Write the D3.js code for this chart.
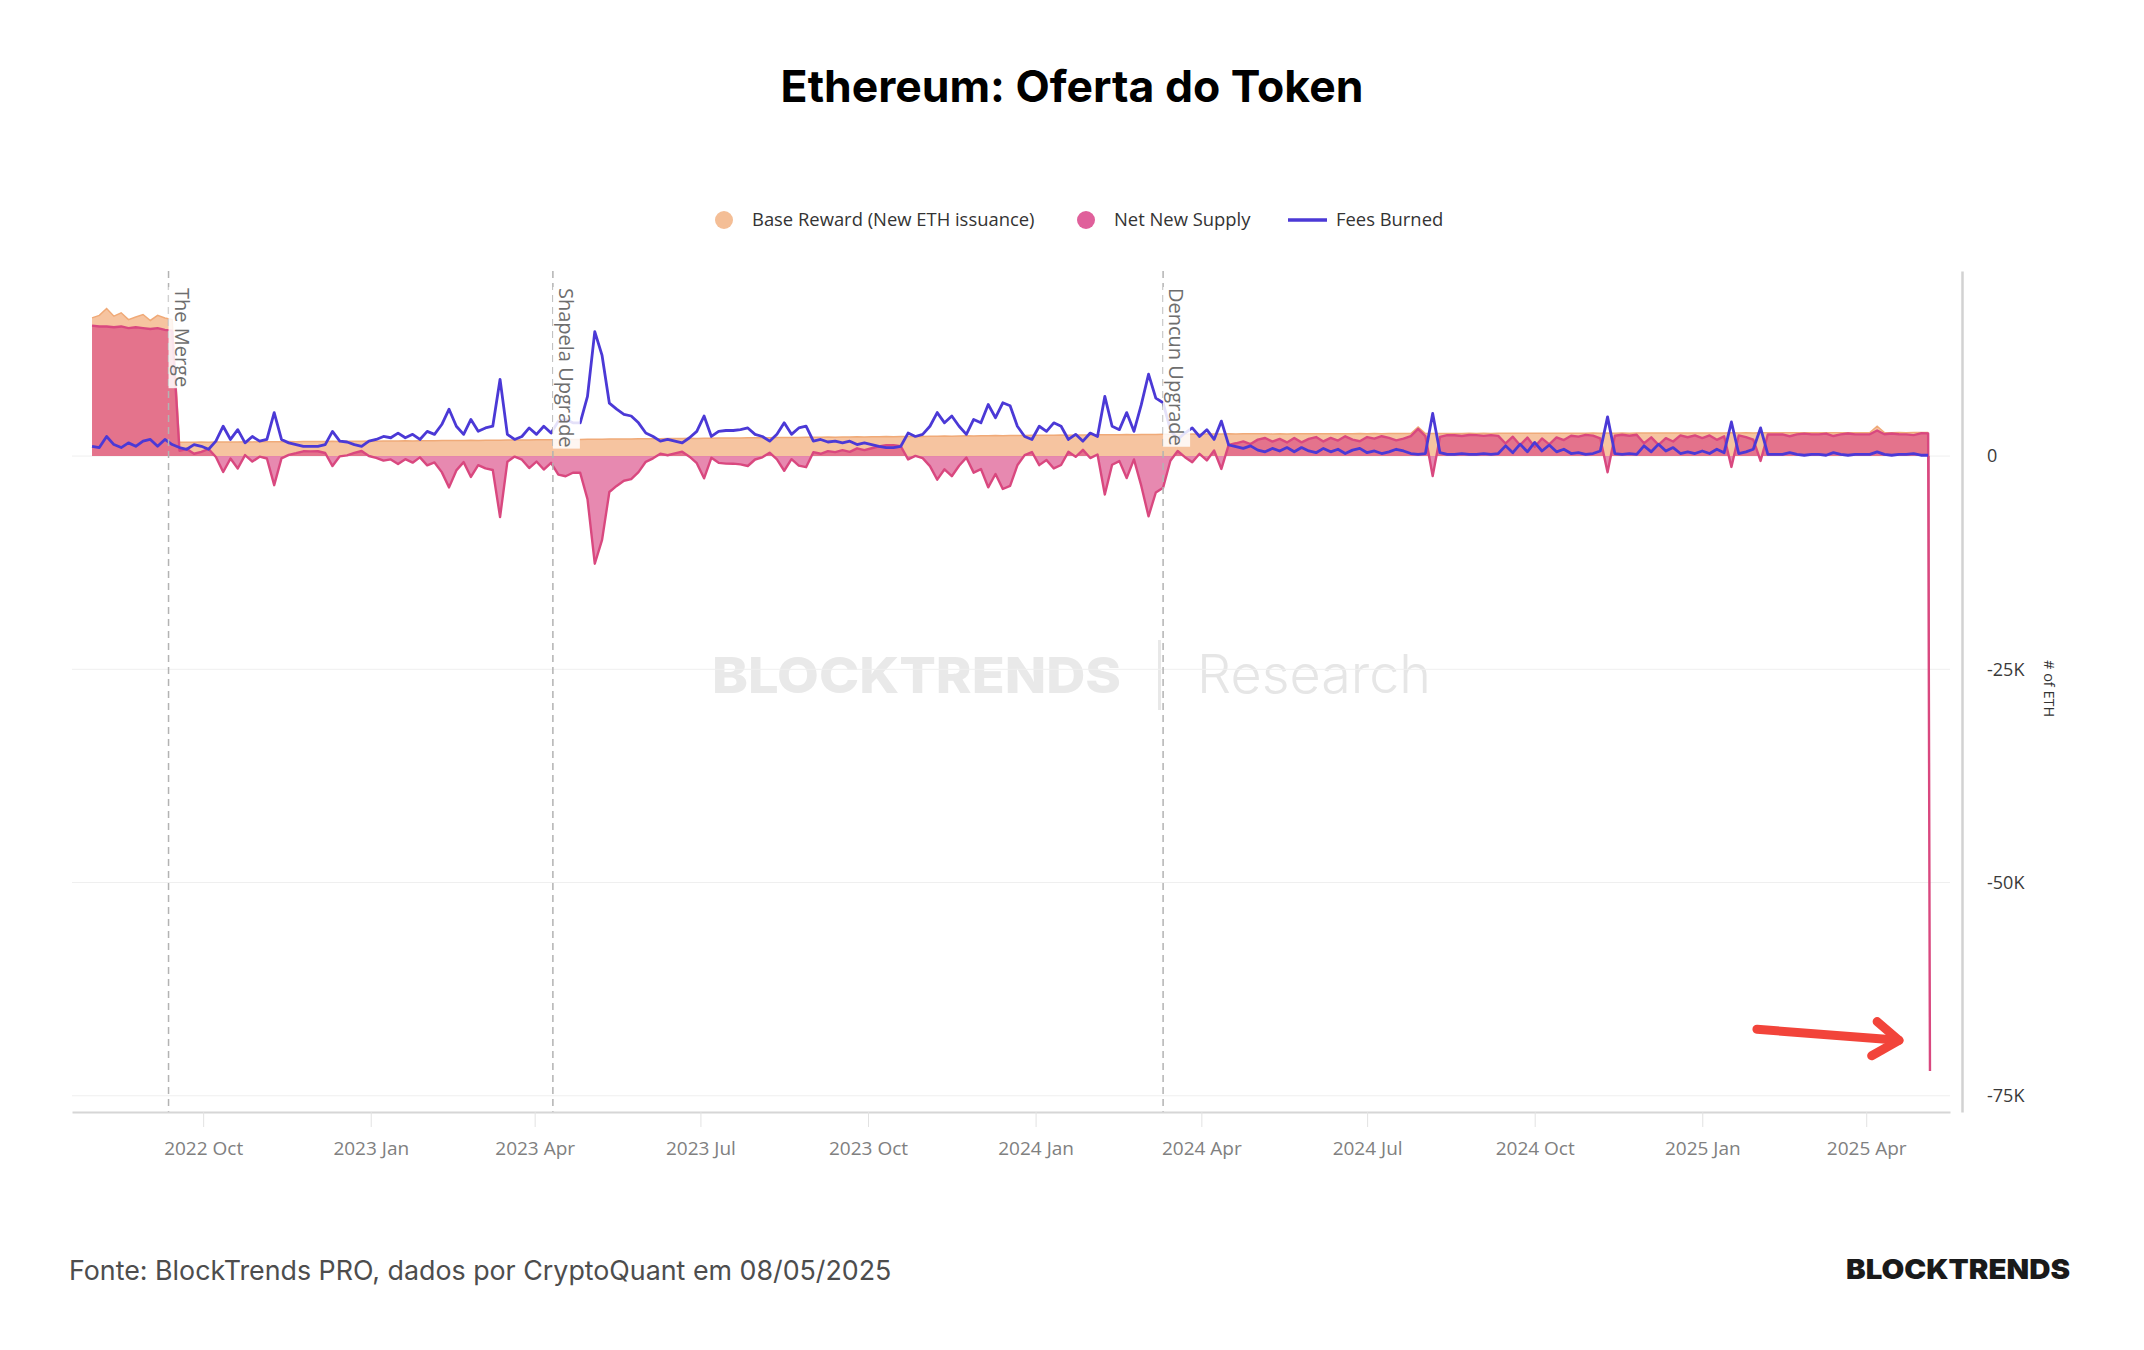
<!DOCTYPE html>
<html>
<head>
<meta charset="utf-8">
<script src="https://cdn.jsdelivr.net/npm/d3@7"></script>
<style>
  html, body { margin: 0; padding: 0; background: #fff; }
  svg { display: block; }
</style>
</head>
<body>
<div id="chart"></div>
<script>
// valores em milhares de ETH por dia, um ponto a cada 4 dias a partir de 01/08/2022
var startDate = "2022-08-01";
var stepDays = 4;

var baseReward = [
  16.2, 16.5, 17.3, 16.4, 16.8, 16.0, 16.3, 16.6, 15.9, 16.5, 16.2, 16.0,
  1.62, 1.63, 1.62, 1.64, 1.63, 1.65, 1.64, 1.66, 1.65, 1.67,
  1.66, 1.68, 1.67, 1.69, 1.68, 1.70, 1.69, 1.71, 1.70, 1.72,
  1.71, 1.73, 1.72, 1.74, 1.73, 1.75, 1.76, 1.75, 1.77, 1.76,
  1.78, 1.79, 1.78, 1.80, 1.81, 1.80, 1.82, 1.83, 1.82, 1.84,
  1.85, 1.84, 1.86, 1.87, 1.86, 1.88, 1.89, 1.88, 1.90, 1.91,
  1.92, 1.91, 1.93, 1.94, 1.95, 1.94, 1.96, 1.98, 1.97, 1.99,
  2.00, 2.01, 2.00, 2.02, 2.03, 2.04, 2.03, 2.05, 2.06, 2.07,
  2.08, 2.07, 2.09, 2.10, 2.11, 2.12, 2.11, 2.13, 2.14, 2.15,
  2.16, 2.15, 2.17, 2.18, 2.19, 2.18, 2.20, 2.21, 2.22, 2.23,
  2.22, 2.24, 2.25, 2.26, 2.25, 2.27, 2.28, 2.29, 2.28, 2.30,
  2.31, 2.32, 2.31, 2.33, 2.34, 2.35, 2.34, 2.36, 2.37, 2.36,
  2.38, 2.39, 2.40, 2.39, 2.41, 2.42, 2.41, 2.43, 2.44, 2.43,
  2.45, 2.46, 2.45, 2.47, 2.48, 2.47, 2.49, 2.50, 2.49, 2.51,
  2.52, 2.51, 2.53, 2.54, 2.53, 2.55, 2.56, 2.55, 2.57, 2.58,
  2.57, 2.59, 2.60, 2.59, 2.61, 2.60, 2.62, 2.61, 2.63, 2.62,
  2.60, 2.61, 2.60, 2.62, 2.61, 2.62, 2.63, 2.62, 2.63, 2.62,
  2.62, 2.63, 2.64, 2.63, 2.64, 2.63, 2.64, 2.65, 2.64, 2.65,
  3.40, 2.65, 2.66, 2.65, 2.66, 2.65, 2.66, 2.67, 2.66, 2.67,
  2.66, 2.67, 2.68, 2.67, 2.68, 2.67, 2.68, 2.67, 2.68, 2.69,
  2.68, 2.69, 2.68, 2.69, 2.70, 2.69, 2.70, 2.69, 2.70, 2.69,
  2.70, 2.71, 2.70, 2.71, 2.70, 2.71, 2.72, 2.71, 2.72, 2.71,
  2.72, 2.71, 2.72, 2.73, 2.72, 2.73, 2.72, 2.73, 2.74, 2.73,
  2.74, 2.73, 2.74, 2.73, 2.74, 2.75, 2.74, 2.75, 2.74, 2.75,
  2.74, 2.75, 2.76, 3.50, 2.76, 2.75, 2.76, 2.75, 2.76, 2.77,
  2.76
];

var netNewSupply = [
  15.3, 15.2, 15.2, 15.1, 15.2, 15.0, 15.1, 15.0, 14.9, 15.0, 14.8, 14.7,
  0.62, 0.83, 0.27, 0.49, 0.83, -0.10, -1.86, -0.29, -1.45, 0.12,
  -0.64, -0.07, -0.28, -3.41, -0.27, 0.15, 0.34, 0.56, 0.55, 0.57,
  0.36, -1.17, -0.03, 0.09, 0.38, 0.60, 0.01, -0.20, -0.53, -0.39,
  -0.92, -0.36, -0.77, -0.15, -1.09, -0.75, -1.88, -3.67, -1.68, -0.71,
  -2.45, -1.06, -1.44, -1.63, -7.14, -0.67, -0.06, -0.42, -1.40, -0.64,
  -1.58, -0.79, -2.17, -2.36, -1.95, -1.96, -5.04, -12.62, -9.83, -4.21,
  -3.50, -2.89, -2.70, -1.88, -0.67, -0.26, 0.28, 0.10, 0.31, 0.52,
  -0.07, -0.83, -2.61, -0.20, -0.79, -0.88, -0.89, -0.97, -1.16, -0.40,
  -0.14, 0.40, -0.38, -1.72, -0.36, -1.12, -1.30, 0.46, 0.27, 0.58,
  0.47, 0.69, 0.50, 0.91, 0.70, 0.92, 1.13, 1.29, 1.28, 1.15,
  -0.39, 0.02, -0.24, -1.17, -2.76, -1.55, -2.36, -1.14, -0.18, -1.94,
  -1.52, -3.66, -2.10, -3.86, -3.49, -1.08, 0.11, 0.48, -1.06, -0.47,
  -1.45, -1.04, 0.50, -0.08, 0.73, -0.23, 0.19, -4.50, -1.01, -0.59,
  -2.58, -0.39, -3.47, -7.06, -4.27, -3.70, -0.54, 0.60, -0.13, -0.72,
  0.27, -0.51, 0.65, -1.51, 1.31, 1.50, 1.72, 1.41, 1.93, 2.12,
  1.70, 2.01, 1.60, 2.12, 1.61, 2.02, 2.23, 1.72, 2.13, 1.82,
  2.32, 1.93, 1.74, 2.23, 2.04, 2.33, 2.14, 1.85, 2.04, 2.35,
  3.20, 2.35, -2.34, 2.25, 2.46, 2.45, 2.36, 2.47, 2.46, 2.37,
  2.46, 2.37, 1.48, 2.27, 1.28, 2.17, 1.08, 2.07, 1.38, 2.19,
  1.88, 2.39, 2.28, 2.49, 2.40, 2.09, -1.90, 2.39, 2.50, 2.39,
  2.50, 1.51, 2.20, 1.31, 2.10, 1.71, 2.42, 2.21, 2.42, 2.11,
  2.42, 1.91, 2.32, -1.27, 2.42, 2.23, 1.92, -0.57, 2.54, 2.53,
  2.54, 2.33, 2.54, 2.63, 2.54, 2.55, 2.64, 2.35, 2.54, 2.65,
  2.54, 2.55, 2.56, 3.00, 2.56, 2.65, 2.56, 2.55, 2.46, 2.67,
  2.66
];

var feesBurned = [
  1.15, 1.0, 2.3, 1.35, 1.0, 1.55, 1.15, 1.75, 1.95, 1.15, 1.95, 1.35,
  1.0, 0.8, 1.35, 1.15, 0.8, 1.75, 3.5, 1.95, 3.1, 1.55,
  2.3, 1.75, 1.95, 5.1, 1.95, 1.55, 1.35, 1.15, 1.15, 1.15,
  1.35, 2.9, 1.75, 1.65, 1.35, 1.15, 1.75, 1.95, 2.3, 2.15,
  2.7, 2.15, 2.55, 1.95, 2.9, 2.55, 3.7, 5.5, 3.5, 2.55,
  4.3, 2.9, 3.3, 3.5, 9.0, 2.55, 1.95, 2.3, 3.3, 2.55,
  3.5, 2.7, 4.1, 4.3, 3.9, 3.9, 7.0, 14.6, 11.8, 6.2,
  5.5, 4.9, 4.7, 3.9, 2.7, 2.3, 1.75, 1.95, 1.75, 1.55,
  2.15, 2.9, 4.7, 2.3, 2.9, 3.0, 3.0, 3.1, 3.3, 2.55,
  2.3, 1.75, 2.55, 3.9, 2.55, 3.3, 3.5, 1.75, 1.95, 1.65,
  1.75, 1.55, 1.75, 1.35, 1.55, 1.35, 1.15, 1.0, 1.0, 1.15,
  2.7, 2.3, 2.55, 3.5, 5.1, 3.9, 4.7, 3.5, 2.55, 4.3,
  3.9, 6.05, 4.5, 6.25, 5.9, 3.5, 2.3, 1.95, 3.5, 2.9,
  3.9, 3.5, 1.95, 2.55, 1.75, 2.7, 2.3, 7.0, 3.5, 3.1,
  5.1, 2.9, 6.0, 9.6, 6.8, 6.25, 3.1, 1.95, 2.7, 3.3,
  2.3, 3.1, 1.95, 4.1, 1.3, 1.1, 0.9, 1.2, 0.7, 0.5,
  0.9, 0.6, 1.0, 0.5, 1.0, 0.6, 0.4, 0.9, 0.5, 0.8,
  0.3, 0.7, 0.9, 0.4, 0.6, 0.3, 0.5, 0.8, 0.6, 0.3,
  0.2, 0.3, 5.0, 0.4, 0.2, 0.2, 0.3, 0.2, 0.2, 0.3,
  0.2, 0.3, 1.2, 0.4, 1.4, 0.5, 1.6, 0.6, 1.3, 0.5,
  0.8, 0.3, 0.4, 0.2, 0.3, 0.6, 4.6, 0.3, 0.2, 0.3,
  0.2, 1.2, 0.5, 1.4, 0.6, 1.0, 0.3, 0.5, 0.3, 0.6,
  0.3, 0.8, 0.4, 4.0, 0.3, 0.5, 0.8, 3.3, 0.2, 0.2,
  0.2, 0.4, 0.2, 0.1, 0.2, 0.2, 0.1, 0.4, 0.2, 0.1,
  0.2, 0.2, 0.2, 0.5, 0.2, 0.1, 0.2, 0.2, 0.3, 0.1,
  0.1
];

// último ponto (anomalia no dado de oferta líquida)
var lastDate = "2025-05-06";
var lastNetSupply = -72.1;

var eventDates = ["2022-09-12", "2023-04-11", "2024-03-11"];
var eventLabels = ["The Merge", "Shapela Upgrade", "Dencun Upgrade"];

var xTickDates = ["2022-10-01", "2023-01-01", "2023-04-01", "2023-07-01", "2023-10-01",
  "2024-01-01", "2024-04-01", "2024-07-01", "2024-10-01", "2025-01-01", "2025-04-01"];
var yTicks = [0, -25, -50, -75];

var legendLabels = ["Base Reward (New ETH issuance)", "Net New Supply", "Fees Burned"];

// seta vermelha (data, valor em K)
var arrowShaft = [["2025-01-31", -67.2], ["2025-04-19", -68.5]];
var arrowHead = [["2025-04-07", -66.3], ["2025-04-19", -68.5], ["2025-04-04", -70.3]];

var width = 2144, height = 1350;
var plot = { left: 72, right: 1950, top: 271, bottom: 1112, axisX: 1962 };

var parse = d3.utcParse("%Y-%m-%d");
var start = parse(startDate);
var dates = baseReward.map(function(d, i) { return d3.utcDay.offset(start, i * stepDays); });

var x = d3.scaleUtc()
  .domain([parse("2022-07-21"), parse("2025-05-17")])
  .range([plot.left, plot.right]);
var y = d3.scaleLinear()
  .domain([-76.9, 21.7])
  .range([plot.bottom, plot.top]);

var baseData = dates.map(function(d, i) { return { date: d, v: baseReward[i] }; });
var burnData = dates.map(function(d, i) { return { date: d, v: feesBurned[i] }; });
var netData = dates.map(function(d, i) { return { date: d, v: netNewSupply[i] }; });
netData.push({ date: parse(lastDate), v: lastNetSupply });

var svg = d3.select("#chart").append("svg")
  .attr("width", width)
  .attr("height", height)
  .style("font-family", "'Open Sans', sans-serif");

svg.append("rect").attr("width", width).attr("height", height).attr("fill", "#fff");

// titulo
svg.append("text")
  .attr("x", 1072).attr("y", 102)
  .attr("text-anchor", "middle")
  .style("font-family", "Inter, sans-serif")
  .style("font-weight", 700)
  .style("font-size", "44.5px")
  .attr("fill", "#000")
  .text("Ethereum: Oferta do Token");

// legenda
var legend = svg.append("g").attr("transform", "translate(0,220)");
legend.append("circle").attr("cx", 724).attr("cy", 0).attr("r", 9).attr("fill", "#f4be96");
legend.append("circle").attr("cx", 1086).attr("cy", 0).attr("r", 9).attr("fill", "#e0609b");
legend.append("line").attr("x1", 1288).attr("x2", 1327).attr("y1", 0).attr("y2", 0)
  .attr("stroke", "#4b39d6").attr("stroke-width", 3.5);
var legendX = [752, 1114, 1336];
legendLabels.forEach(function(t, i) {
  legend.append("text")
    .attr("x", legendX[i]).attr("y", 6)
    .style("font-size", "18.4px")
    .attr("fill", "#333")
    .text(t);
});

// marca d'agua
svg.append("text")
  .attr("x", 712).attr("y", 693)
  .attr("textLength", 409)
  .attr("lengthAdjust", "spacingAndGlyphs")
  .style("font-family", "Inter, sans-serif")
  .style("font-weight", 800)
  .style("font-size", "50px")
  .attr("fill", "#e9e9e9")
  .text("BLOCKTRENDS");
svg.append("rect").attr("x", 1158).attr("y", 640).attr("width", 3).attr("height", 70).attr("fill", "#e8e8e8");
svg.append("text")
  .attr("x", 1197).attr("y", 693)
  .attr("textLength", 234)
  .attr("lengthAdjust", "spacingAndGlyphs")
  .style("font-family", "Inter, sans-serif")
  .style("font-weight", 300)
  .style("font-size", "53px")
  .attr("fill", "#e6e6e6")
  .text("Research");

// grade
svg.append("g").selectAll("line")
  .data(yTicks).enter().append("line")
  .attr("x1", plot.left).attr("x2", plot.right)
  .attr("y1", function(d) { return y(d); })
  .attr("y2", function(d) { return y(d); })
  .attr("stroke", "#efefef")
  .attr("stroke-width", 1);

// areas
var area = d3.area()
  .x(function(d) { return x(d.date); })
  .y0(y(0))
  .y1(function(d) { return y(d.v); });
var line = d3.line()
  .x(function(d) { return x(d.date); })
  .y(function(d) { return y(d.v); });

svg.append("path").datum(baseData)
  .attr("d", area)
  .attr("fill", "#f6c4a0");
svg.append("path").datum(baseData)
  .attr("d", line)
  .attr("fill", "none")
  .attr("stroke", "#f0aa78")
  .attr("stroke-width", 1.5);

svg.append("path").datum(netData)
  .attr("d", area)
  .attr("fill", "#d9407f")
  .attr("fill-opacity", 0.62);
svg.append("path").datum(netData)
  .attr("d", line)
  .attr("fill", "none")
  .attr("stroke", "#d9487f")
  .attr("stroke-width", 2.4)
  .attr("stroke-linejoin", "round");

svg.append("path").datum(burnData)
  .attr("d", line)
  .attr("fill", "none")
  .attr("stroke", "#4b39d6")
  .attr("stroke-width", 2.8)
  .attr("stroke-linejoin", "round");

// linhas de eventos
var ev = svg.append("g");
eventDates.forEach(function(d, i) {
  var ex = x(parse(d));
  ev.append("line")
    .attr("x1", ex).attr("x2", ex)
    .attr("y1", plot.top).attr("y2", plot.bottom)
    .attr("stroke", "#b3b3b3")
    .attr("stroke-width", 1.5)
    .attr("stroke-dasharray", "7,5");
  var g = ev.append("g").attr("transform", "translate(" + (ex + 6) + ",288) rotate(90)");
  var t = g.append("text")
    .style("font-size", "20px")
    .attr("fill", "#6e6e6e")
    .text(eventLabels[i]);
  var bb = t.node().getBBox();
  g.insert("rect", "text")
    .attr("x", bb.x - 1).attr("y", bb.y)
    .attr("width", bb.width + 2).attr("height", bb.height)
    .attr("fill", "#fff")
    .attr("fill-opacity", 0.85);
});

// eixo x
var xAxis = svg.append("g")
  .attr("transform", "translate(0," + plot.bottom + ")")
  .call(d3.axisBottom(x)
    .tickValues(xTickDates.map(parse))
    .tickFormat(d3.utcFormat("%Y %b"))
    .tickSizeInner(15)
    .tickSizeOuter(0)
    .tickPadding(15));
xAxis.select(".domain").attr("stroke", "#d6d6d6").attr("stroke-width", 2);
xAxis.selectAll(".tick line").attr("stroke", "#e2e2e2");
xAxis.selectAll(".tick text")
  .style("font-family", "'Open Sans', sans-serif")
  .style("font-size", "19px")
  .attr("fill", "#808080");

// eixo y (direita)
var yAxis = svg.append("g")
  .attr("transform", "translate(" + plot.axisX + ",0)")
  .call(d3.axisRight(y)
    .tickValues(yTicks)
    .tickFormat(function(d) { return d === 0 ? "0" : d + "K"; })
    .tickSizeInner(0)
    .tickSizeOuter(0)
    .tickPadding(25));
yAxis.select(".domain").attr("stroke", "#d2d2d2").attr("stroke-width", 2.5);
yAxis.selectAll(".tick text")
  .style("font-family", "'Open Sans', sans-serif")
  .style("font-size", "18px")
  .attr("fill", "#3a3a3a");

svg.append("text")
  .attr("transform", "translate(2044,660) rotate(90)")
  .style("font-size", "14.5px")
  .attr("fill", "#333")
  .text("# of ETH");

// seta
var arrowLine = d3.line()
  .x(function(d) { return x(parse(d[0])); })
  .y(function(d) { return y(d[1]); });
[arrowShaft, arrowHead].forEach(function(pts) {
  svg.append("path")
    .attr("d", arrowLine(pts))
    .attr("fill", "none")
    .attr("stroke", "#f2443a")
    .attr("stroke-width", 9)
    .attr("stroke-linecap", "round")
    .attr("stroke-linejoin", "round");
});

// rodape
svg.append("text")
  .attr("x", 69).attr("y", 1280)
  .style("font-family", "Inter, sans-serif")
  .style("font-size", "26.8px")
  .attr("fill", "#4d4d4d")
  .text("Fonte: BlockTrends PRO, dados por CryptoQuant em 08/05/2025");
svg.append("text")
  .attr("x", 2070).attr("y", 1279)
  .attr("text-anchor", "end")
  .attr("textLength", 224)
  .attr("lengthAdjust", "spacingAndGlyphs")
  .style("font-family", "Inter, sans-serif")
  .style("font-weight", 900)
  .style("font-size", "27px")
  .attr("fill", "#1a1a1a")
  .text("BLOCKTRENDS");
</script>
</body>
</html>
